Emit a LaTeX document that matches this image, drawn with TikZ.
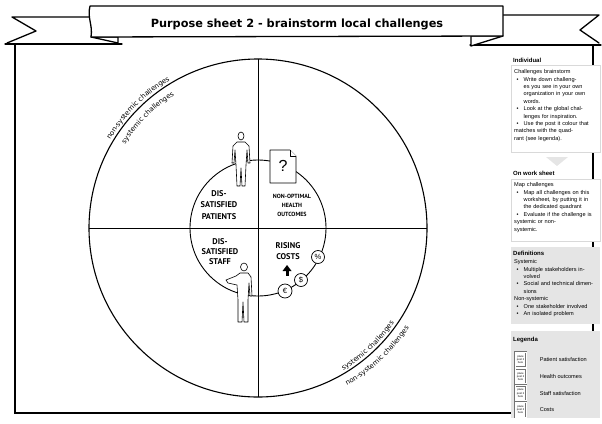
\documentclass[tikz,border=0pt]{standalone}
\usepackage{fontspec}
\setmainfont{Liberation Sans}
\newfontfamily\titlefont{DejaVu Sans}
\newfontfamily\handfont{PT Sans}
\usetikzlibrary{positioning,decorations.text}
\setlength{\parindent}{0pt}
\setlength{\parskip}{0pt}
\newcommand{\blt}[1]{\par\hangindent=9.5pt\hangafter=1\makebox[9.5pt][l]{\hspace{2.5pt}\textbullet}#1}
\newcommand{\arcfont}{\titlefont\fontsize{6.9}{7}\selectfont}

\begin{document}
\begin{tikzpicture}[x=1pt,y=-1pt,
		frame/.style={line width=1.5pt},
		ribbon/.style={line width=1.3pt,line join=round,line cap=round},
		quarter/.style={line width=1pt},
		sketch/.style={line width=0.6pt,fill=white,line join=round},
		whitebox/.style={draw=gray!30,line width=0.8pt,fill=white},
		greybox/.style={fill=gray!20},
		boxhead/.style={anchor=west,inner sep=0pt,font=\fontsize{6}{7}\selectfont\bfseries},
		boxtext/.style={anchor=north west,inner sep=0pt,text width=84pt,align=left,font=\fontsize{5.6}{7.4}\selectfont},
		hand/.style={align=center,inner sep=0pt,font=\handfont\bfseries\fontsize{8.3}{11.5}\selectfont},
		coin/.style={draw,circle,fill=white,line width=0.7pt,inner sep=0pt,minimum size=13pt,font=\fontsize{7.5}{7.5}\selectfont},
		postit/.style={draw=black!55,fill=white,double=white,double distance=0.8pt,line width=0.5pt,minimum width=11pt,minimum height=15pt,inner sep=0pt,align=center,font=\fontsize{2.7}{3.1}\selectfont},
		arclabel/.style={decorate,decoration={text along path,text align=center,text={#1}}}]
	\useasboundingbox (0,0) rectangle (602,423);

	\coordinate (frameTL) at (15,44);
	\coordinate (frameBL) at (15,413);
	\coordinate (frameBR) at (593,413);
	\coordinate (frameTR) at (593,45);
	\draw[frame] (frameTL) -- (frameBL) -- (frameBR) -- (frameTR);

	\draw[ribbon] (90,17) -- (12,17) -- (36,31) -- (7,43);
	\draw[ribbon] (5,44) -- (122,44);
	\draw[ribbon] (503,15) -- (599,15) -- (580,30) -- (599,43);
	\draw[ribbon] (470,45) -- (601,45);
	\draw[ribbon,fill=white] (91,37) -- (118,37) -- (118,43) -- cycle;
	\draw[ribbon,fill=white] (503,36) -- (471,36) -- (471,46) -- cycle;
	\draw[ribbon,fill=white] (90,6) -- (503,6) -- (503,36) -- (91,37) .. controls (93,25) and (87,18) .. cycle;
	\node[font=\titlefont\bfseries\fontsize{11.3}{13}\selectfont] (title) at (297,24) {Purpose sheet 2 - brainstorm local challenges};

	\coordinate (C) at (258,228);
	\coordinate (ctop) at (258,59);
	\coordinate (cbottom) at (258,397);
	\coordinate (cleft) at (89,228);
	\coordinate (cright) at (427,228);
	\draw[line width=1.1pt] (C) circle[radius=169];
	\draw[quarter] (ctop) -- (cbottom);
	\draw[quarter] (cleft) -- (cright);
	\draw[line width=0.9pt] (C) circle[radius=68];

	\path[arclabel={|\arcfont|non-systemic challenges},shift={(C)}] (-170:172) arc[start angle=-170,end angle=-100,radius=172];
	\path[arclabel={|\arcfont|systemic challenges},shift={(C)}] (-170:157) arc[start angle=-170,end angle=-100,radius=157];
	\path[arclabel={|\arcfont|systemic challenges},shift={(C)}] (80:166) arc[start angle=80,end angle=14,radius=166];
	\path[arclabel={|\arcfont|non-systemic challenges},shift={(C)}] (80:181) arc[start angle=80,end angle=14,radius=181];

	\draw[sketch] (237,142) -- (245,142) -- (249,146) -- (250,163) -- (248,163) -- (247,150) -- (246,165) -- (245,186) -- (242,186) -- (241,168) -- (240,186) -- (237,186) -- (236,165) -- (235,150) -- (234,163) -- (232,163) -- (233,146) -- cycle;
	\draw[sketch] (241,136) ellipse[x radius=3,y radius=4];
	\draw[sketch] (270,150) -- (290,150) -- (296,156) -- (296,183) -- (270,183) -- cycle;
	\draw[sketch] (290,150) -- (290,156) -- (296,156);
	\node[font=\fontsize{16}{16}\selectfont] (question) at (283,166) {?};

	\draw[sketch] (240,273) -- (248,273) -- (251,277) -- (252,296) -- (250,296) -- (249,283) -- (248,300) -- (248,322) -- (244,322) -- (243,302) -- (242,322) -- (238,322) -- (238,300) -- (237,285) -- (228,283) -- (226,280) -- (236,276) -- cycle;
	\draw[sketch] (244,267) ellipse[x radius=3.5,y radius=4];

	\node[coin] (percent) at (318,257) {\%};
	\node[coin] (dollar) at (301,280) {\$};
	\node[coin,minimum size=14pt] (euro) at (285,291) {€};
	\fill (285.5,276) rectangle (288.5,270);
	\fill (282.5,271) -- (291.5,271) -- (287,265) -- cycle;

	\node[hand] (patients) at (219,205) {DIS-\\SATISFIED\\PATIENTS};
	\node[hand,font=\handfont\bfseries\fontsize{6}{9}\selectfont] (outcomes) at (292,205) {NON-OPTIMAL\\HEALTH\\OUTCOMES};
	\node[hand,font=\handfont\bfseries\fontsize{8.3}{10}\selectfont] (staff) at (220,252) {DIS-\\SATISFIED\\STAFF};
	\node[hand] (costs) at (288,251) {RISING\\COSTS};

	\draw[whitebox] (511,65) rectangle (600,152);
	\node[boxhead] (individual) at (513,60) {Individual};
	\node[boxtext] (brainstorm) at (514,69.5) {Challenges brainstorm\blt{Write down challeng-\newline es you see in your own\newline organization in your own\newline words.}\blt{Look at the global chal-\newline lenges for inspiration.}\blt{Use the post it colour that\newline matches with the quad-\newline rant (see legenda).}};
	\fill[gray!20] (546,157) -- (568,157) -- (557,166) -- cycle;

	\node[boxhead] (worksheet) at (513,173) {On work sheet};
	\draw[whitebox] (511,179) rectangle (600,241);
	\node[boxtext] (mapping) at (514,182.5) {Map challenges\blt{Map all challenges on this\newline worksheet, by putting it in\newline the dedicated quadrant}\blt{Evaluate if the challenge is\newline systemic or non-\newline systemic.}};

	\fill[greybox] (511,247) rectangle (600,324);
	\node[boxhead] (definitions) at (513,253) {Definitions};
	\node[boxtext] (deftext) at (514,259.5) {Systemic\blt{Multiple stakeholders in-\newline volved}\blt{Social and technical dimen-\newline sions}\par Non-systemic\blt{One stakeholder involved}\blt{An isolated problem}};

	\fill[greybox] (511,331) rectangle (600,418);
	\node[boxhead] (legenda) at (513,340) {Legenda};
	\foreach \lbl [count=\i from 0] in {Patient satisfaction,Health outcomes,Staff satisfaction,Costs} {
		\node[postit] (post\i) at (520.5,{359.5+16.8*\i}) {place\\post it\\here};
		\node[font=\fontsize{5.6}{7}\selectfont,right=10pt of post\i] (label\i) {\lbl};
	}
\end{tikzpicture}
\end{document}
